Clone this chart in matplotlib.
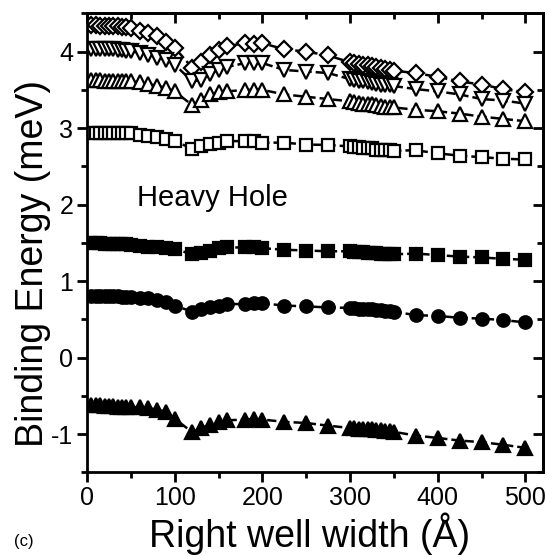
import matplotlib
matplotlib.use('Agg')
import matplotlib.pyplot as plt
from matplotlib.ticker import MultipleLocator

plt.rcParams['font.family'] = ['Liberation Sans', 'DejaVu Sans']
plt.rcParams['axes.unicode_minus'] = False

# right well widths (Angstrom) used in the calculation
width = [5, 10, 15, 20, 25, 30, 35, 40, 45, 50,
         60, 70, 80, 90, 100,
         120, 130, 140, 150, 160,
         180, 190, 200,
         225, 250, 275, 300,
         305, 310, 315, 320, 325, 330, 335, 340, 345, 350,
         375, 400, 425, 450, 475, 500]

# binding energies (meV), one list per state
e_diamond = [4.35, 4.35, 4.34, 4.34, 4.34, 4.33, 4.33, 4.32, 4.32, 4.31,
             4.27, 4.24, 4.20, 4.13, 4.05,
             3.79, 3.87, 3.96, 4.02, 4.07,
             4.11, 4.10, 4.11,
             4.03, 4.00, 3.95, 3.86,
             3.85, 3.84, 3.83, 3.82, 3.81, 3.80, 3.78, 3.77, 3.76, 3.75,
             3.72, 3.67, 3.61, 3.57, 3.51, 3.47]
e_tri_down = [4.04, 4.04, 4.04, 4.03, 4.03, 4.03, 4.02, 4.02, 4.01, 4.01,
              3.98, 3.96, 3.92, 3.89, 3.83,
              3.61, 3.63, 3.71, 3.76, 3.80,
              3.85, 3.85, 3.85,
              3.76, 3.74, 3.72, 3.64,
              3.63, 3.62, 3.61, 3.60, 3.59, 3.58, 3.57, 3.57, 3.56, 3.55,
              3.51, 3.48, 3.44, 3.38, 3.36, 3.32]
e_tri_up = [3.63, 3.63, 3.63, 3.62, 3.62, 3.62, 3.62, 3.61, 3.61, 3.61,
            3.60, 3.58, 3.55, 3.53, 3.48,
            3.30, 3.37, 3.44, 3.47, 3.48,
            3.50, 3.50, 3.50,
            3.44, 3.41, 3.38, 3.35,
            3.34, 3.33, 3.32, 3.32, 3.31, 3.30, 3.29, 3.28, 3.28, 3.27,
            3.24, 3.22, 3.19, 3.15, 3.12, 3.09]
e_square_open = [2.94, 2.94, 2.94, 2.94, 2.93, 2.93, 2.93, 2.93, 2.93, 2.93,
                 2.91, 2.90, 2.88, 2.86, 2.83,
                 2.73, 2.77, 2.79, 2.81, 2.83,
                 2.83, 2.83, 2.81,
                 2.81, 2.785, 2.78, 2.76,
                 2.75, 2.75, 2.745, 2.74, 2.74, 2.72, 2.715, 2.71, 2.71, 2.705,
                 2.71, 2.67, 2.64, 2.62, 2.60, 2.59]
e_square_full = [1.50, 1.50, 1.50, 1.49, 1.49, 1.49, 1.48, 1.48, 1.48, 1.47,
                 1.46, 1.45, 1.44, 1.43, 1.42,
                 1.35, 1.37, 1.40, 1.43, 1.44,
                 1.44, 1.44, 1.43,
                 1.41, 1.40, 1.39, 1.39,
                 1.38, 1.38, 1.38, 1.37, 1.37, 1.37, 1.36, 1.36, 1.36, 1.35,
                 1.36, 1.34, 1.32, 1.31, 1.29, 1.28]
e_circle = [0.81, 0.81, 0.81, 0.80, 0.80, 0.80, 0.80, 0.79, 0.79, 0.79,
            0.785, 0.775, 0.755, 0.725, 0.68,
            0.60, 0.63, 0.66, 0.68, 0.70,
            0.70, 0.71, 0.71,
            0.68, 0.67, 0.655, 0.65,
            0.65, 0.64, 0.64, 0.63, 0.63, 0.62, 0.62, 0.61, 0.61, 0.60,
            0.555, 0.545, 0.52, 0.51, 0.49, 0.46]
e_tri_full = [-0.62, -0.62, -0.62, -0.63, -0.63, -0.63, -0.64, -0.64, -0.64, -0.65,
              -0.65, -0.66, -0.68, -0.71, -0.80,
              -0.975, -0.92, -0.88, -0.845, -0.82,
              -0.81, -0.80, -0.81,
              -0.84, -0.855, -0.89, -0.92,
              -0.92, -0.93, -0.93, -0.94, -0.94, -0.95, -0.95, -0.96, -0.96, -0.97,
              -1.02, -1.05, -1.085, -1.105, -1.14, -1.18]

fig = plt.figure(figsize=(5.58, 5.57), dpi=100)
ax = fig.add_axes([0.156, 0.152, 0.817, 0.824])

series = [
    (e_diamond, 'D', 'white', 8.5),
    (e_tri_down, 'v', 'white', 10),
    (e_tri_up, '^', 'white', 10),
    (e_square_open, 's', 'white', 8.5),
    (e_square_full, 's', 'black', 8.5),
    (e_circle, 'o', 'black', 9),
    (e_tri_full, '^', 'black', 10),
]
for yvals, mk, face, ms in series:
    ax.plot(width, yvals, ls='--', color='black', lw=1.8,
            marker=mk, ms=ms, mfc=face, mec='black', mew=1.6)

ax.text(143, 2.09, 'Heavy Hole', fontsize=21, ha='center', va='center')

ax.set_xlim(0, 520)
ax.set_ylim(-1.5, 4.5)
ax.xaxis.set_major_locator(MultipleLocator(100))
ax.xaxis.set_minor_locator(MultipleLocator(50))
ax.yaxis.set_major_locator(MultipleLocator(1))
ax.yaxis.set_minor_locator(MultipleLocator(0.5))
ax.tick_params(which='major', direction='out', length=7, width=2, labelsize=18, pad=3)
ax.tick_params(which='minor', direction='out', length=4, width=2)

# mirrored ticks on top and right, pointing inward
top = ax.secondary_xaxis('top')
top.xaxis.set_major_locator(MultipleLocator(100))
top.xaxis.set_minor_locator(MultipleLocator(50))
top.tick_params(which='major', direction='in', length=7, width=2, labeltop=False)
top.tick_params(which='minor', direction='in', length=4, width=2)
right = ax.secondary_yaxis('right')
right.yaxis.set_major_locator(MultipleLocator(1))
right.yaxis.set_minor_locator(MultipleLocator(0.5))
right.tick_params(which='major', direction='in', length=7, width=2, labelright=False)
right.tick_params(which='minor', direction='in', length=4, width=2)

for sp in list(ax.spines.values()) + [top.spines['top'], right.spines['right']]:
    sp.set_linewidth(2)

ax.set_xlabel('Right well width (Å)', fontsize=27)
ax.set_ylabel('Binding Energy (meV)', fontsize=27)
ax.xaxis.set_label_coords(0.489, -0.088)
ax.yaxis.set_label_coords(-0.08, 0.455)
fig.text(0.025, 0.02, '(c)', fontsize=12)

fig.savefig('out.png', dpi=100)
